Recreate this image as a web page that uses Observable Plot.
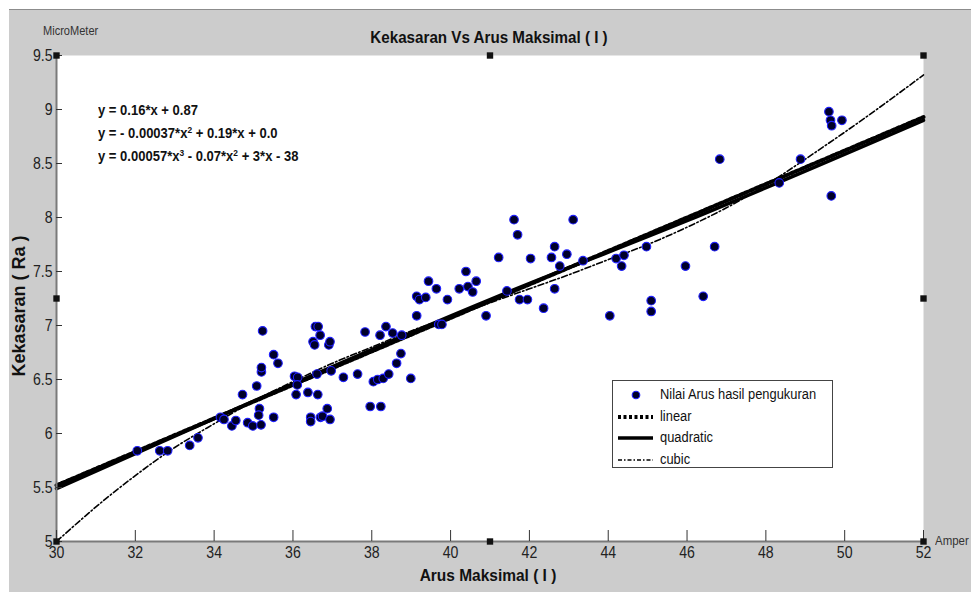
<!DOCTYPE html>
<html>
<head>
<meta charset="utf-8">
<script src="https://cdn.jsdelivr.net/npm/d3@7"></script>
<script src="https://cdn.jsdelivr.net/npm/@observablehq/plot@0.6"></script>
<style>
  html, body { margin: 0; padding: 0; background: #fff; }
  #wrap { position: relative; width: 971px; height: 592px; overflow: hidden;
          font-family: "Liberation Sans", Arial, sans-serif; color: #222; }
  #panel { position: absolute; left: 9px; top: 9px; width: 962px; height: 583px;
           background: #cccccc; border-top: 1px solid #8c8c8c; box-sizing: border-box; }
  #chart { position: absolute; left: 0; top: 0; }
  .t { position: absolute; white-space: nowrap; }
  #title { left: 489px; top: 28px; transform: translateX(-50%) scaleX(0.92); font-weight: bold; font-size: 16.5px; color: #111; }
  #unitY { left: 43px; top: 24px; font-size: 12px; color: #333; transform: scaleX(0.92); transform-origin: 0 50%; }
  #unitX { left: 935px; top: 533px; font-size: 13px; color: #333; transform: scaleX(0.88); transform-origin: 0 50%; }
  #xlabel { left: 488px; top: 566px; transform: translateX(-50%) scaleX(0.91); font-weight: bold; font-size: 17px; color: #111; }
  #ylabel { left: 19px; top: 306px; transform: translate(-50%, -50%) rotate(-90deg); font-weight: bold; font-size: 18px; color: #111; }
  #eqs { left: 98px; top: 99px; font-weight: bold; font-size: 14px; line-height: 23px; color: #111;
         transform: scaleX(0.93); transform-origin: 0 0; }
  #eqs sup { font-size: 9px; line-height: 0; vertical-align: 5px; }
  #legend { position: absolute; left: 612px; top: 380px; width: 221px; height: 88px; box-sizing: border-box;
            background: #fff; border: 1px solid #444; }
  .row { position: absolute; left: 0; height: 20px; width: 100%; }
  .row svg { position: absolute; left: 4px; top: 0; }
  .row span { position: absolute; left: 47px; top: 1px; font-size: 14px; color: #111;
              transform: scaleX(0.92); transform-origin: 0 50%; white-space: nowrap; }
</style>
</head>
<body>
<div id="wrap">
  <div id="panel"></div>
  <div id="chart"></div>
  <div class="t" id="title"></div>
  <div class="t" id="unitY"></div>
  <div class="t" id="unitX"></div>
  <div class="t" id="xlabel"></div>
  <div class="t" id="ylabel"></div>
  <div class="t" id="eqs"></div>
  <div id="legend"></div>
</div>
<script>
// ---- texts ----
const titleText = "Kekasaran Vs Arus Maksimal ( I )";
const xLabelText = "Arus Maksimal ( I )";
const yLabelText = "Kekasaran ( Ra )";
const yUnitText = "MicroMeter";
const xUnitText = "Amper";
const equationLines = [
  "y = 0.16*x + 0.87",
  "y = - 0.00037*x<sup>2</sup> + 0.19*x + 0.0",
  "y = 0.00057*x<sup>3</sup> - 0.07*x<sup>2</sup> + 3*x - 38"
];
const legendLabels = ["Nilai Arus hasil pengukuran", "linear", "quadratic", "cubic"];

// ---- axes ----
const xTicks = [30, 32, 34, 36, 38, 40, 42, 44, 46, 48, 50, 52];
const yTicks = [5, 5.5, 6, 6.5, 7, 7.5, 8, 8.5, 9, 9.5];

// ---- measured points (Arus, Kekasaran) ----
const arus = [
  32.05, 32.62, 32.82, 33.38, 33.59, 34.16, 34.25, 34.45, 34.55, 34.72,
  34.85, 34.98, 35.08, 35.15, 35.13, 35.19, 35.20, 35.20, 35.23, 35.51,
  35.62, 35.51, 36.04, 36.12, 36.11, 36.08, 36.38, 36.63, 36.45, 36.45,
  36.51, 36.55, 36.57, 36.64, 36.69, 36.61, 36.70, 36.75, 36.87, 36.91,
  36.94, 36.94, 36.97, 37.28, 37.64, 37.83, 37.96, 38.23, 38.04, 38.15,
  38.29, 38.43, 38.21, 38.36, 38.53, 38.74, 38.63, 38.99, 38.76, 39.14,
  39.14, 39.21, 39.37, 39.44, 39.64, 39.70, 39.78, 39.92, 40.22, 40.39,
  40.44, 40.56, 40.65, 40.90, 41.22, 41.43, 41.61, 41.70, 41.75, 41.95,
  42.03, 42.36, 42.56, 42.64, 42.64, 42.77, 42.95, 43.11, 43.36, 44.04,
  44.20, 44.34, 44.40, 44.97, 45.09, 45.09, 45.96, 46.41, 46.70, 46.83,
  48.34, 48.88, 49.60, 49.64, 49.67, 49.93, 49.66
];
const kekasaran = [
  5.84, 5.84, 5.84, 5.89, 5.96, 6.15, 6.13, 6.07, 6.12, 6.36,
  6.10, 6.07, 6.44, 6.23, 6.17, 6.08, 6.57, 6.61, 6.95, 6.73,
  6.65, 6.15, 6.53, 6.52, 6.45, 6.36, 6.38, 6.36, 6.15, 6.11,
  6.85, 6.82, 6.99, 6.99, 6.91, 6.55, 6.15, 6.16, 6.23, 6.82,
  6.85, 6.13, 6.58, 6.52, 6.55, 6.94, 6.25, 6.25, 6.48, 6.50,
  6.51, 6.55, 6.91, 6.99, 6.93, 6.74, 6.65, 6.51, 6.91, 7.09,
  7.27, 7.24, 7.26, 7.41, 7.34, 7.01, 7.01, 7.24, 7.34, 7.50,
  7.36, 7.31, 7.41, 7.09, 7.63, 7.32, 7.98, 7.84, 7.24, 7.24,
  7.62, 7.16, 7.63, 7.73, 7.34, 7.55, 7.66, 7.98, 7.60, 7.09,
  7.62, 7.55, 7.65, 7.73, 7.23, 7.13, 7.55, 7.27, 7.73, 8.54,
  8.32, 8.54, 8.98, 8.90, 8.85, 8.90, 8.20
];

// ---- fitted curves ----
const linearX = [30, 52];
const linearY = [5.52, 8.93];
const quadX = [30, 35, 41, 46, 52];
const quadY = [5.49, 6.30, 7.24, 7.97, 8.90];
const cubicX = [30, 31, 32, 33, 34, 35, 36, 37, 38, 39, 40, 41, 42, 43, 44, 45, 46, 47, 48, 49, 50, 51, 52];
const cubicY = [5.00, 5.32, 5.61, 5.87, 6.09, 6.30, 6.48, 6.65, 6.80, 6.95, 7.08, 7.21, 7.34, 7.47, 7.61, 7.75, 7.91, 8.09, 8.30, 8.54, 8.79, 9.05, 9.32];

// ---- selection handles of the axes box (data coords) ----
const handleX = [30, 41, 52, 30, 52, 30, 41, 52];
const handleY = [9.5, 9.5, 9.5, 7.25, 7.25, 5, 5, 5];

const points = arus.map((x, i) => ({x, y: kekasaran[i]}));
const linear = linearX.map((x, i) => ({x, y: linearY[i]}));
const quad = quadX.map((x, i) => ({x, y: quadY[i]}));
const cubic = cubicX.map((x, i) => ({x, y: cubicY[i]}));
const handles = handleX.map((x, i) => ({x, y: handleY[i]}));

const dotFill = "#00002a", dotStroke = "#1f1fff";
const fmt = d => String(d);

const chart = Plot.plot({
  width: 971, height: 592,
  marginLeft: 56, marginRight: 48, marginTop: 55, marginBottom: 51,
  style: {background: "transparent", fontFamily: "'Liberation Sans', Arial, sans-serif", fontSize: "17px", color: "#222"},
  x: {domain: [30, 52], label: null},
  y: {domain: [5, 9.5], label: null},
  marks: [
    Plot.frame({fill: "white", stroke: "none"}),
    Plot.line(cubic, {x: "x", y: "y", stroke: "black", strokeWidth: 1.6, strokeDasharray: "6,2.5,1.5,2.5", curve: "natural"}),
    Plot.line(quad, {x: "x", y: "y", stroke: "black", strokeWidth: 3.5, curve: "natural"}),
    Plot.line(linear, {x: "x", y: "y", stroke: "black", strokeWidth: 4, strokeDasharray: "3,2.5"}),
    Plot.dot(points, {x: "x", y: "y", r: 4.3, fill: dotFill, stroke: dotStroke, strokeWidth: 1.1}),
    Plot.ruleX([30], {stroke: "#7a7a7a", strokeWidth: 2}),
    Plot.ruleY([5], {stroke: "#7a7a7a", strokeWidth: 2}),
    Plot.axisX({ticks: xTicks, tickSize: 11, dy: -11, tickFormat: () => "", stroke: "#333"}),
    Plot.axisX({ticks: xTicks, tickSize: 0, tickPadding: 4, fontSize: 17, fill: "#222", tickFormat: fmt}),
    Plot.axisY({ticks: yTicks, tickSize: 6, dx: 6, tickFormat: () => "", stroke: "#333"}),
    Plot.axisY({ticks: yTicks, tickSize: 0, tickPadding: 4, fontSize: 17, fill: "#222", tickFormat: fmt}),
    Plot.dot(handles, {x: "x", y: "y", symbol: "square", r: 3.6, fill: "#111"})
  ]
});
document.getElementById("chart").appendChild(chart);

// condense tick labels horizontally (the reference uses a narrow face) without moving them
chart.querySelectorAll("text").forEach(t => {
  const s = t.textContent;
  if (!s) return;
  const w = t.getComputedTextLength();
  if (w > 0) {
    t.setAttribute("textLength", (w * 0.83).toFixed(2));
    t.setAttribute("lengthAdjust", "spacingAndGlyphs");
  }
});

// ---- text overlays ----
document.getElementById("title").textContent = titleText;
document.getElementById("xlabel").textContent = xLabelText;
document.getElementById("ylabel").textContent = yLabelText;
document.getElementById("unitY").textContent = yUnitText;
document.getElementById("unitX").textContent = xUnitText;
document.getElementById("eqs").innerHTML = equationLines.join("<br>");

// ---- legend ----
const legendSamples = [
  `<circle cx="19" cy="10" r="3.8" fill="${dotFill}" stroke="${dotStroke}" stroke-width="1.1"/>`,
  `<line x1="1" x2="36" y1="10" y2="10" stroke="black" stroke-width="4" stroke-dasharray="3,2.5"/>`,
  `<line x1="1" x2="36" y1="10" y2="10" stroke="black" stroke-width="3.5"/>`,
  `<line x1="1" x2="36" y1="10" y2="10" stroke="black" stroke-width="1.3" stroke-dasharray="4,2,1.5,2"/>`
];
const legendRowTops = [4, 25.5, 47, 68.5];
const leg = document.getElementById("legend");
legendLabels.forEach((lab, i) => {
  const row = document.createElement("div");
  row.className = "row";
  row.style.top = legendRowTops[i] + "px";
  row.innerHTML = `<svg width="40" height="20">${legendSamples[i]}</svg><span>${lab}</span>`;
  leg.appendChild(row);
});
</script>
</body>
</html>
